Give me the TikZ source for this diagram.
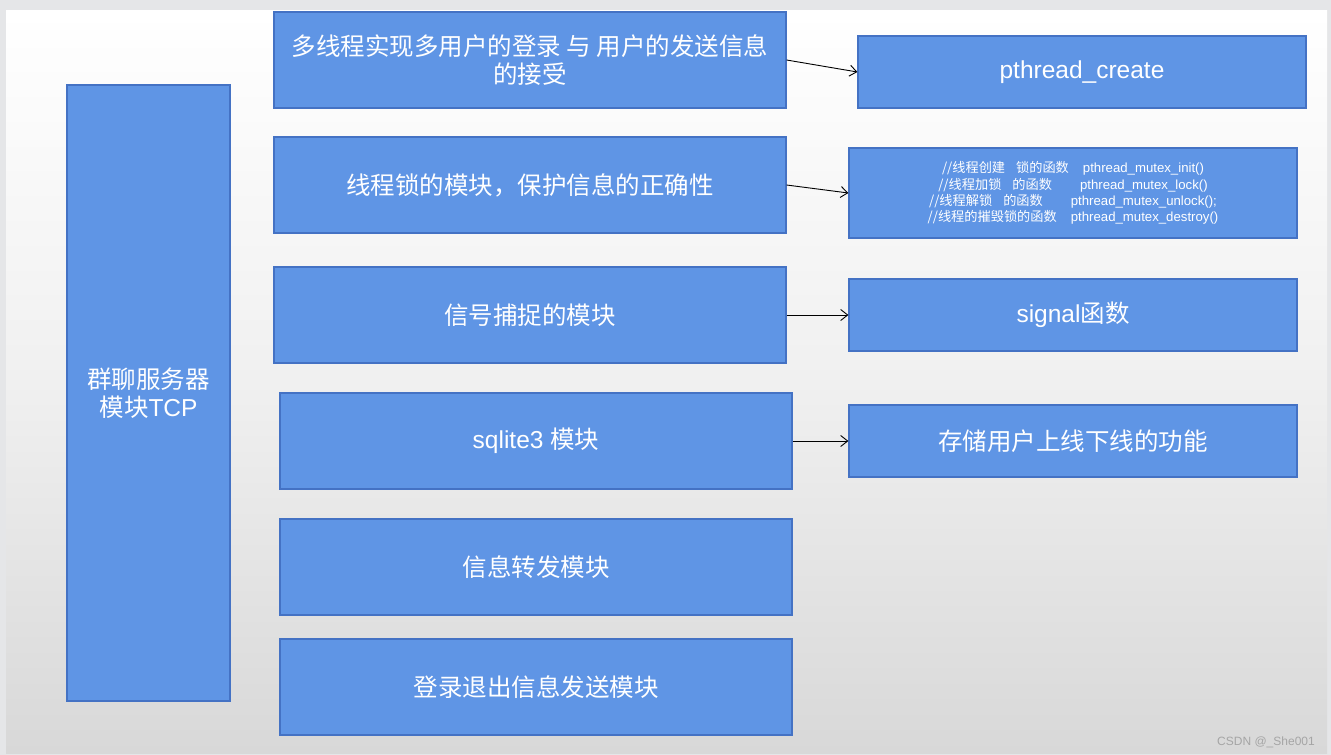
\documentclass[tikz,border=0pt]{standalone}
\usepackage{fontspec}
\setmainfont{Liberation Sans}
\newfontfamily\cjk{Noto Sans CJK SC}
\usetikzlibrary{arrows.meta}
\definecolor{boxfill}{RGB}{95,149,229}
\definecolor{boxline}{RGB}{68,114,196}
\definecolor{outerbg}{RGB}{229,230,232}
\definecolor{slidebot}{RGB}{216,216,216}
\definecolor{wm}{RGB}{165,165,165}
\tikzset{
  box/.style={draw=boxline, line width=1.2pt, fill=boxfill, text=white,
    inner sep=0pt, align=center, font=\fontsize{24.5}{28}\selectfont},
  smallbox/.style={box, font=\fontsize{13.2}{16.3}\selectfont},
  conn/.style={draw=black, line width=0.9pt, -{Straight Barb[length=7pt,width=11pt,line width=0.9pt]}}
}
\begin{document}
\begin{tikzpicture}[x=1pt,y=-1pt]
\useasboundingbox (0,0) rectangle (1331,755);
\fill[outerbg] (0,0) rectangle (1331,755);
\shade[top color=white, bottom color=slidebot, middle color={rgb,255:red,240;green,240;blue,240}] (6,10) rectangle (1327,753);

\node[box, minimum width=163pt, minimum height=616pt] (L) at (148.5,393) {{\cjk 群聊服务器}\\{\cjk 模块}TCP};

\node[box, minimum width=512pt, minimum height=96pt] (B1) at (530,60) {{\cjk 多线程实现多用户的登录 与 用户的发送信息}\\{\cjk 的接受}};
\node[box, minimum width=512pt, minimum height=96pt] (B2) at (530,185) {{\cjk 线程锁的模块，保护信息的正确性}};
\node[box, minimum width=512pt, minimum height=96pt] (B3) at (530,315) {{\cjk 信号捕捉的模块}};
\node[box, minimum width=512pt, minimum height=96pt] (B4) at (536,441) {sqlite3 {\cjk 模块}};
\node[box, minimum width=512pt, minimum height=96pt] (B5) at (536,567) {{\cjk 信息转发模块}};
\node[box, minimum width=512pt, minimum height=96pt] (B6) at (536,687) {{\cjk 登录退出信息发送模块}};

\node[box, minimum width=448pt, minimum height=72pt] (R1) at (1082,72) {pthread\_create};
\node[smallbox, minimum width=448pt, minimum height=90pt] (R2) at (1073,193) {%
{\cjk //线程创建}\hspace{11pt}{\cjk 锁的函数}\hspace{14pt}pthread\_mutex\_init()\\
{\cjk //线程加锁}\hspace{11pt}{\cjk 的函数}\hspace{28pt}pthread\_mutex\_lock()\\
{\cjk //线程解锁}\hspace{11pt}{\cjk 的函数}\hspace{28pt}pthread\_mutex\_unlock();\\
{\cjk //线程的摧毁锁的函数}\hspace{14pt}pthread\_mutex\_destroy()};
\node[box, minimum width=448pt, minimum height=72pt] (R3) at (1073,315) {signal{\cjk 函数}};
\node[box, minimum width=448pt, minimum height=72pt] (R4) at (1073,441) {{\cjk 存储用户上线下线的功能}};

\draw[conn] (B1.east) -- (R1.west);
\draw[conn] (B2.east) -- (R2.west);
\draw[conn] (B3.east) -- (R3.west);
\draw[conn] (B4.east) -- (R4.west);

\node[anchor=base east, text=wm, inner sep=0pt, font=\fontsize{12}{14}\selectfont] (wm) at (1315,745) {CSDN @\_She001};
\end{tikzpicture}
\end{document}
